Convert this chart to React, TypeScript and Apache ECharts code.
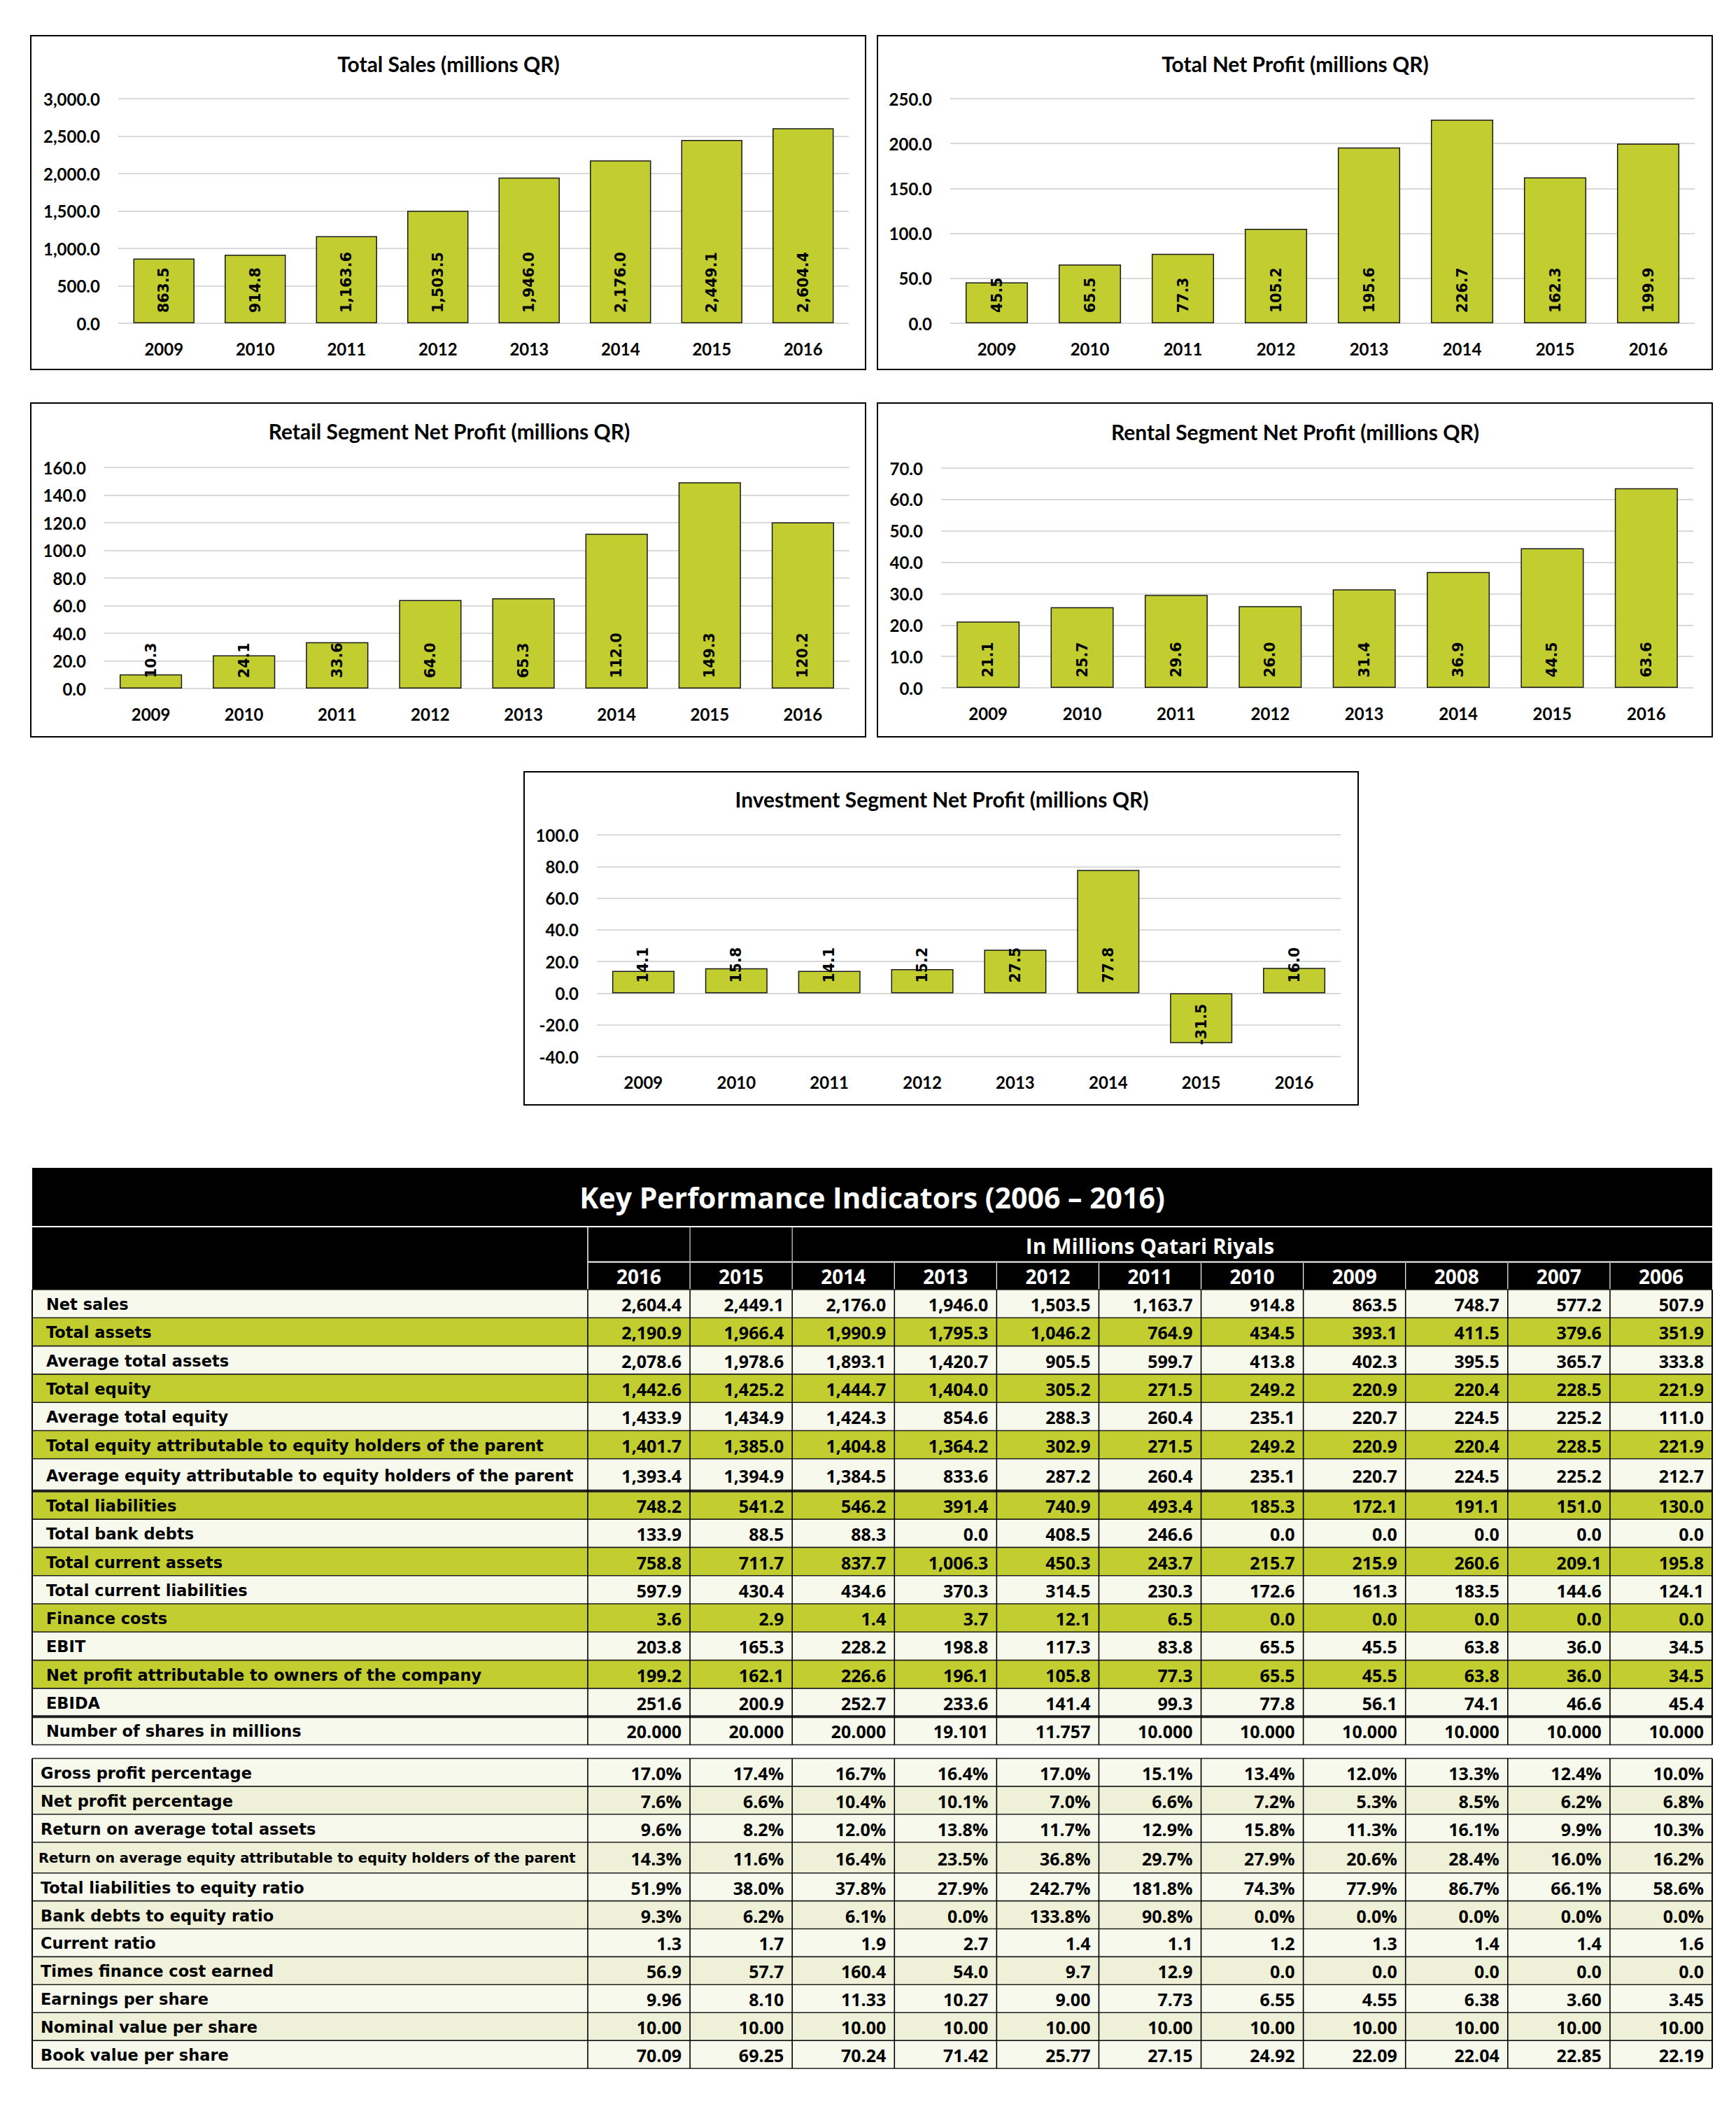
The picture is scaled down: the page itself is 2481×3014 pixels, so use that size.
import React, { useEffect, useRef } from "react";
import * as echarts from "echarts";

// ---------------- Chart data ----------------
const years = ["2009", "2010", "2011", "2012", "2013", "2014", "2015", "2016"];
const totalSales = [863.5, 914.8, 1163.6, 1503.5, 1946.0, 2176.0, 2449.1, 2604.4];
const totalNetProfit = [45.5, 65.5, 77.3, 105.2, 195.6, 226.7, 162.3, 199.9];
const retailProfit = [10.3, 24.1, 33.6, 64.0, 65.3, 112.0, 149.3, 120.2];
const rentalProfit = [21.1, 25.7, 29.6, 26.0, 31.4, 36.9, 44.5, 63.6];
const investmentProfit = [14.1, 15.8, 14.1, 15.2, 27.5, 77.8, -31.5, 16.0];

const chartTitles = [
  "Total Sales (millions QR)",
  "Total Net Profit (millions QR)",
  "Retail Segment Net Profit (millions QR)",
  "Rental Segment Net Profit (millions QR)",
  "Investment Segment Net Profit (millions QR)",
];
const axisMin = [0, 0, 0, 0, -40];
const axisMax = [3000, 250, 160, 70, 100];
const axisStep = [500, 50, 20, 10, 20];

// ---------------- Table data ----------------
const tableTitle = "Key Performance Indicators (2006 \u2013 2016)";
const tableSubtitle = "In Millions Qatari Riyals";
const kpiYears = ["2016", "2015", "2014", "2013", "2012", "2011", "2010", "2009", "2008", "2007", "2006"];

const netSales = ["2,604.4", "2,449.1", "2,176.0", "1,946.0", "1,503.5", "1,163.7", "914.8", "863.5", "748.7", "577.2", "507.9"];
const totalAssets = ["2,190.9", "1,966.4", "1,990.9", "1,795.3", "1,046.2", "764.9", "434.5", "393.1", "411.5", "379.6", "351.9"];
const avgTotalAssets = ["2,078.6", "1,978.6", "1,893.1", "1,420.7", "905.5", "599.7", "413.8", "402.3", "395.5", "365.7", "333.8"];
const totalEquity = ["1,442.6", "1,425.2", "1,444.7", "1,404.0", "305.2", "271.5", "249.2", "220.9", "220.4", "228.5", "221.9"];
const avgTotalEquity = ["1,433.9", "1,434.9", "1,424.3", "854.6", "288.3", "260.4", "235.1", "220.7", "224.5", "225.2", "111.0"];
const equityAttrParent = ["1,401.7", "1,385.0", "1,404.8", "1,364.2", "302.9", "271.5", "249.2", "220.9", "220.4", "228.5", "221.9"];
const avgEquityAttrParent = ["1,393.4", "1,394.9", "1,384.5", "833.6", "287.2", "260.4", "235.1", "220.7", "224.5", "225.2", "212.7"];
const totalLiabilities = ["748.2", "541.2", "546.2", "391.4", "740.9", "493.4", "185.3", "172.1", "191.1", "151.0", "130.0"];
const totalBankDebts = ["133.9", "88.5", "88.3", "0.0", "408.5", "246.6", "0.0", "0.0", "0.0", "0.0", "0.0"];
const totalCurrentAssets = ["758.8", "711.7", "837.7", "1,006.3", "450.3", "243.7", "215.7", "215.9", "260.6", "209.1", "195.8"];
const totalCurrentLiabilities = ["597.9", "430.4", "434.6", "370.3", "314.5", "230.3", "172.6", "161.3", "183.5", "144.6", "124.1"];
const financeCosts = ["3.6", "2.9", "1.4", "3.7", "12.1", "6.5", "0.0", "0.0", "0.0", "0.0", "0.0"];
const ebit = ["203.8", "165.3", "228.2", "198.8", "117.3", "83.8", "65.5", "45.5", "63.8", "36.0", "34.5"];
const netProfitOwners = ["199.2", "162.1", "226.6", "196.1", "105.8", "77.3", "65.5", "45.5", "63.8", "36.0", "34.5"];
const ebida = ["251.6", "200.9", "252.7", "233.6", "141.4", "99.3", "77.8", "56.1", "74.1", "46.6", "45.4"];
const numberOfShares = ["20.000", "20.000", "20.000", "19.101", "11.757", "10.000", "10.000", "10.000", "10.000", "10.000", "10.000"];

const grossProfitPct = ["17.0%", "17.4%", "16.7%", "16.4%", "17.0%", "15.1%", "13.4%", "12.0%", "13.3%", "12.4%", "10.0%"];
const netProfitPct = ["7.6%", "6.6%", "10.4%", "10.1%", "7.0%", "6.6%", "7.2%", "5.3%", "8.5%", "6.2%", "6.8%"];
const returnAvgAssets = ["9.6%", "8.2%", "12.0%", "13.8%", "11.7%", "12.9%", "15.8%", "11.3%", "16.1%", "9.9%", "10.3%"];
const returnAvgEquity = ["14.3%", "11.6%", "16.4%", "23.5%", "36.8%", "29.7%", "27.9%", "20.6%", "28.4%", "16.0%", "16.2%"];
const liabilitiesToEquity = ["51.9%", "38.0%", "37.8%", "27.9%", "242.7%", "181.8%", "74.3%", "77.9%", "86.7%", "66.1%", "58.6%"];
const bankDebtsToEquity = ["9.3%", "6.2%", "6.1%", "0.0%", "133.8%", "90.8%", "0.0%", "0.0%", "0.0%", "0.0%", "0.0%"];
const currentRatio = ["1.3", "1.7", "1.9", "2.7", "1.4", "1.1", "1.2", "1.3", "1.4", "1.4", "1.6"];
const timesFinanceCost = ["56.9", "57.7", "160.4", "54.0", "9.7", "12.9", "0.0", "0.0", "0.0", "0.0", "0.0"];
const earningsPerShare = ["9.96", "8.10", "11.33", "10.27", "9.00", "7.73", "6.55", "4.55", "6.38", "3.60", "3.45"];
const nominalValue = ["10.00", "10.00", "10.00", "10.00", "10.00", "10.00", "10.00", "10.00", "10.00", "10.00", "10.00"];
const bookValue = ["70.09", "69.25", "70.24", "71.42", "25.77", "27.15", "24.92", "22.09", "22.04", "22.85", "22.19"];

const table1Rows: [string, string[]][] = [
  ["Net sales", netSales],
  ["Total assets", totalAssets],
  ["Average total assets", avgTotalAssets],
  ["Total equity", totalEquity],
  ["Average total equity", avgTotalEquity],
  ["Total equity attributable to equity holders of the parent", equityAttrParent],
  ["Average equity attributable to equity holders of the parent", avgEquityAttrParent],
  ["Total liabilities", totalLiabilities],
  ["Total bank debts", totalBankDebts],
  ["Total current assets", totalCurrentAssets],
  ["Total current liabilities", totalCurrentLiabilities],
  ["Finance costs", financeCosts],
  ["EBIT", ebit],
  ["Net profit attributable to owners of the company", netProfitOwners],
  ["EBIDA", ebida],
  ["Number of shares in millions", numberOfShares],
];
const table2Rows: [string, string[]][] = [
  ["Gross profit percentage", grossProfitPct],
  ["Net profit percentage", netProfitPct],
  ["Return on average total assets", returnAvgAssets],
  ["Return on average equity attributable to equity holders of the parent", returnAvgEquity],
  ["Total liabilities to equity ratio", liabilitiesToEquity],
  ["Bank debts to equity ratio", bankDebtsToEquity],
  ["Current ratio", currentRatio],
  ["Times finance cost earned", timesFinanceCost],
  ["Earnings per share", earningsPerShare],
  ["Nominal value per share", nominalValue],
  ["Book value per share", bookValue],
];

// ---------------- Layout & style ----------------
const W = 2481;
const H = 3014;
const GREEN = "#C2CD30";
const LIGHT = "#F8F9ED";
const TINT = "#EEF1D7";
const AXIS_FONT = "Lato, 'Open Sans', sans-serif";
const LABEL_FONT = "'DejaVu Sans', Verdana, sans-serif";
const NUM_FONT = "'Open Sans', 'Noto Sans', sans-serif";

const chartLayout = [
  { box: [44, 51, 1193, 477], grid: [169, 141, 1044, 321], title: [641, 91] },
  { box: [1254, 51, 1193, 477], grid: [1358, 141, 1064, 321], title: [1851, 91] },
  { box: [44, 576, 1193, 477], grid: [149, 668, 1065, 316], title: [642, 616] },
  { box: [1254, 576, 1193, 477], grid: [1345, 669, 1075, 314], title: [1851, 617] },
  { box: [749, 1103, 1192, 476], grid: [853, 1193, 1063, 317], title: [1346, 1142] },
];

const TL = 46;
const TR = 2447;
const COL0 = 840;
const COLW = (TR - COL0) / 11;

function fmt1(v: number): string {
  return v.toLocaleString("en-US", { minimumFractionDigits: 1, maximumFractionDigits: 1 });
}

function buildTable(): any[] {
  const els: any[] = [];
  const txt = (x: number, y: number, text: string, opt: any) => ({
    type: "text",
    x,
    y,
    silent: true,
    style: { text, fill: "#000", textVerticalAlign: "middle", ...opt },
  });
  const line = (x1: number, y1: number, x2: number, y2: number, stroke: string, lw: number) => ({
    type: "line",
    silent: true,
    shape: { x1, y1, x2, y2 },
    style: { stroke, lineWidth: lw },
  });

  // Header
  els.push({ type: "rect", silent: true, shape: { x: TL, y: 1669, width: TR - TL, height: 83 }, style: { fill: "#000" } });
  els.push({ type: "rect", silent: true, shape: { x: TL, y: 1754, width: TR - TL, height: 89 }, style: { fill: "#000" } });
  els.push(line(COL0, 1803.5, TR, 1803.5, "#fff", 2));
  els.push(line(COL0, 1754, COL0, 1843, "#fff", 1.5));
  for (let k = 1; k < 11; k++) {
    const x = COL0 + k * COLW;
    els.push(line(x, 1805, x, 1843, "#fff", 1.2));
    if (k <= 2) els.push(line(x, 1754, x, 1802, "#fff", 1));
  }
  els.push(txt((TL + TR) / 2, 1711, tableTitle, { textAlign: "center", fill: "#fff", fontFamily: NUM_FONT, fontWeight: "bold", fontSize: 41 }));
  els.push(txt((COL0 + TR) / 2, 1780, tableSubtitle, { textAlign: "center", fill: "#fff", fontFamily: NUM_FONT, fontWeight: "bold", fontSize: 30 }));
  kpiYears.forEach((y, k) => {
    els.push(txt(COL0 + (k + 0.5) * COLW, 1824, y, { textAlign: "center", fill: "#fff", fontFamily: NUM_FONT, fontWeight: "bold", fontSize: 28 }));
  });

  const drawTable = (
    rows: [string, string[]][],
    top: number,
    rowH: number,
    tallIdx: number,
    tallH: number,
    colorOf: (i: number) => string,
    labelX: number,
    thick: number[]
  ) => {
    let y = top;
    const bounds: number[] = [y];
    rows.forEach((r, i) => {
      const h = i === tallIdx ? tallH : rowH;
      els.push({ type: "rect", silent: true, shape: { x: TL, y, width: TR - TL, height: h }, style: { fill: colorOf(i) } });
      const small = r[0].length > 62;
      els.push(txt(labelX - (small ? 3 : 0), y + h / 2 + 1, r[0], {
        textAlign: "left",
        fontFamily: LABEL_FONT,
        fontWeight: "bold",
        fontSize: small ? 19.5 : 22.5,
      }));
      r[1].forEach((v, k) => {
        els.push(txt(COL0 + (k + 1) * COLW - 12, y + h / 2 + 1, v, {
          textAlign: "right",
          fontFamily: NUM_FONT,
          fontWeight: "bold",
          fontSize: 25,
        }));
      });
      y += h;
      bounds.push(y);
    });
    bounds.forEach((b, i) => {
      const lw = thick.indexOf(i) >= 0 ? 4 : 1.6;
      els.push(line(TL, b, TR, b, "#1e1e1e", lw));
    });
    els.push(line(TL, top, TL, y, "#000", 2));
    els.push(line(TR, top, TR, y, "#000", 2));
    for (let k = 0; k < 11; k++) {
      const x = COL0 + k * COLW;
      els.push(line(x, top, x, y, "#000", 1.6));
    }
  };

  drawTable(table1Rows, 1843, 40.3, 6, 46, (i) => (i === 15 ? LIGHT : i % 2 === 1 ? GREEN : LIGHT), 66, [7, 15]);
  drawTable(table2Rows, 2513, 39.9, 3, 44, (i) => (i % 2 === 1 ? TINT : LIGHT), 58, []);
  return els;
}

export default function App() {
  const ref = useRef<HTMLDivElement>(null);
  useEffect(() => {
    if (!ref.current) return;
    const chart = echarts.init(ref.current, undefined, { renderer: "svg" });
    const seriesData = [totalSales, totalNetProfit, retailProfit, rentalProfit, investmentProfit];

    const grid = chartLayout.map((c) => ({
      left: c.grid[0],
      top: c.grid[1],
      width: c.grid[2],
      height: c.grid[3],
      containLabel: false,
    }));
    const xAxis = chartLayout.map((_, i) => ({
      type: "category",
      gridIndex: i,
      data: years,
      axisLine: { show: false, onZero: false },
      axisTick: { show: false },
      axisLabel: { margin: 24, color: "#000", fontFamily: AXIS_FONT, fontWeight: "bold", fontSize: 24 },
    }));
    const yAxis = chartLayout.map((_, i) => ({
      type: "value",
      gridIndex: i,
      min: axisMin[i],
      max: axisMax[i],
      interval: axisStep[i],
      axisLine: { show: false },
      axisTick: { show: false },
      splitLine: { show: true, lineStyle: { color: "#d9d9d9", width: 2 } },
      axisLabel: {
        margin: 26,
        color: "#000",
        fontFamily: AXIS_FONT,
        fontWeight: "bold",
        fontSize: 24,
        formatter: (v: number) => fmt1(v),
      },
    }));
    const series = seriesData.map((d, i) => ({
      type: "bar",
      xAxisIndex: i,
      yAxisIndex: i,
      barCategoryGap: "33%",
      data: d.map((v) =>
        v < 0 ? { value: v, label: { position: "insideTop", align: "right" } } : v
      ),
      itemStyle: { color: GREEN, borderColor: "#1a1a1a", borderWidth: 1.5 },
      label: {
        show: true,
        position: "insideBottom",
        distance: 15,
        rotate: 90,
        align: "left",
        verticalAlign: "middle",
        color: "#000",
        fontFamily: LABEL_FONT,
        fontWeight: "bold",
        fontSize: 20.5,
        formatter: (p: any) => fmt1(p.value),
      },
    }));

    const graphic: any[] = [];
    chartLayout.forEach((c, i) => {
      graphic.push({
        type: "rect",
        silent: true,
        z: -10,
        shape: { x: c.box[0], y: c.box[1], width: c.box[2], height: c.box[3] },
        style: { fill: "#fff", stroke: "#000", lineWidth: 2 },
      });
      graphic.push({
        type: "text",
        silent: true,
        x: c.title[0],
        y: c.title[1],
        style: {
          text: chartTitles[i],
          fill: "#000",
          textAlign: "center",
          textVerticalAlign: "middle",
          fontFamily: AXIS_FONT,
          fontWeight: "bold",
          fontSize: 30,
        },
      });
    });
    buildTable().forEach((e) => graphic.push(e));

    chart.setOption({
      animation: false,
      backgroundColor: "#fff",
      grid,
      xAxis,
      yAxis,
      series,
      graphic,
    });
    return () => chart.dispose();
  }, []);
  return (
    <div
      ref={ref}
      style={{ position: "absolute", left: 0, top: 0, width: W, height: H, background: "#fff" }}
    />
  );
}
